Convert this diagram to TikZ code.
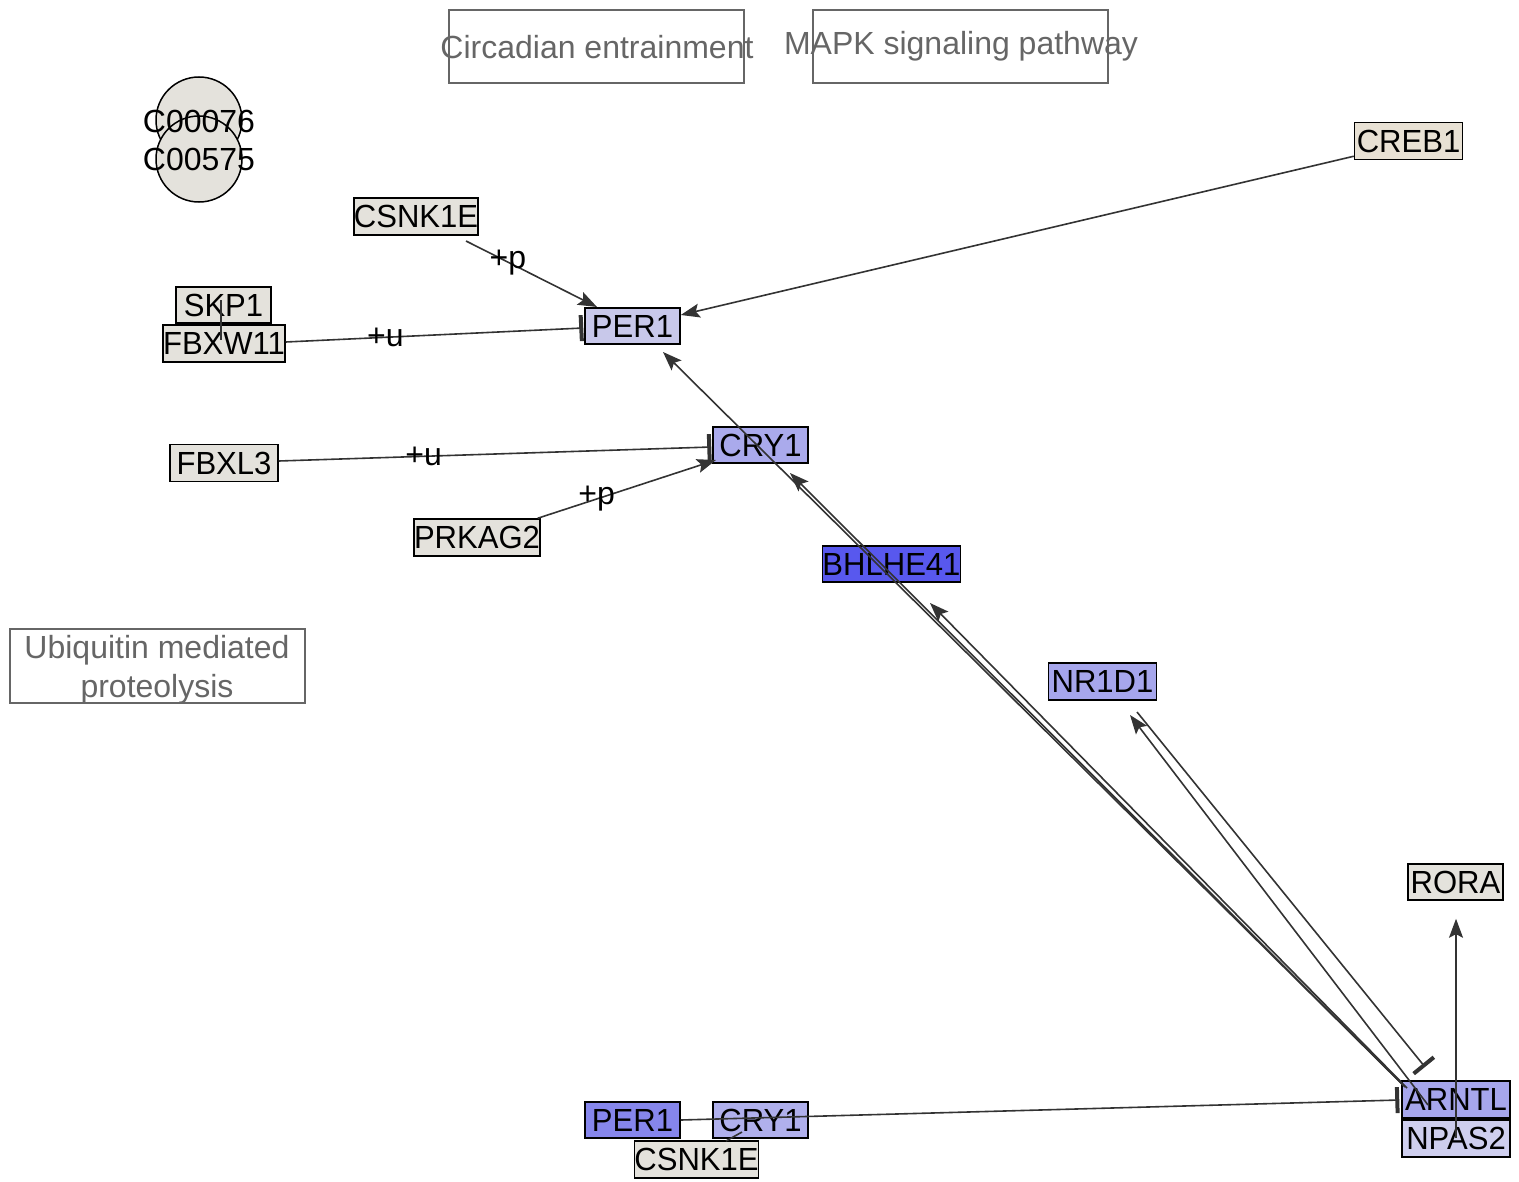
\documentclass[tikz,border=0pt]{standalone}
\usepackage{fontspec}
\setmainfont{Liberation Sans}
\newfontfamily\genefont[FakeStretch=0.97]{Liberation Sans}
\usetikzlibrary{arrows.meta}
\definecolor{genegray}{RGB}{228,226,220}
\definecolor{crebfill}{RGB}{232,225,212}
\definecolor{perA}{RGB}{200,200,234}
\definecolor{cryA}{RGB}{170,170,236}
\definecolor{bhlfill}{RGB}{88,88,238}
\definecolor{nrfill}{RGB}{166,166,236}
\definecolor{arnfill}{RGB}{166,166,236}
\definecolor{npasfill}{RGB}{206,206,238}
\definecolor{perB}{RGB}{134,134,236}
\definecolor{cryB}{RGB}{176,176,236}
\definecolor{pathgray}{RGB}{102,102,102}
\definecolor{edgecol}{RGB}{51,51,51}
\tikzset{
  gene/.style={draw=black, line width=0.75pt, rectangle, inner sep=0pt, fill=genegray,
    font=\genefont\fontsize{16}{18}\selectfont, text=black},
  pathbox/.style={draw=pathgray, line width=0.75pt, rectangle, inner sep=0pt,
    minimum width=147.5pt, minimum height=36.5pt},
  pathtext/.style={inner sep=0pt, text=pathgray, font=\fontsize{16}{19.5}\selectfont, align=center},
  cpd/.style={draw=black, line width=0.75pt, circle, fill=genegray, minimum size=43pt, inner sep=0pt},
  cpdtext/.style={inner sep=0pt, font=\fontsize{16}{18}\selectfont},
  conn/.style={draw=edgecol, line width=0.8pt},
  act/.style={conn, -{Stealth[length=9.5pt,width=7pt,inset=1.8pt]}},
  inh/.style={conn, -{Bar[width=13pt,line width=2pt]}},
  elabel/.style={inner sep=0pt, font=\fontsize{16}{18}\selectfont},
  w95/.style={minimum width=47.5pt, minimum height=18pt},
  w108/.style={minimum width=54pt, minimum height=18.5pt},
  w122/.style={minimum width=61pt, minimum height=18.5pt},
  w135/.style={minimum width=67.5pt, minimum height=18pt}
}
\begin{document}
\begin{tikzpicture}[x=0.5pt,y=-0.5pt]
\useasboundingbox (0,0) rectangle (1519,1182);

% pathway boxes
\node[pathbox] (circbox) at (596.5,46.5) {};
\node[pathtext] (circ) at (597,47) {Circadian entrainment};
\node[pathbox] (mapkbox) at (960.5,46.5) {};
\node[pathtext] (mapk) at (961,46) {MAPK signaling pathway};
\node[pathbox, minimum height=37pt] (ubqbox) at (157.5,666) {};
\node[pathtext] (ubq) at (157,670) {Ubiquitin mediated\\proteolysis};

% compounds
\node[cpd] (c1) at (199,120) {};
\node[cpd] (c2) at (199,159) {};
\node[cpdtext] (c1t) at (199,121) {C00076};
\node[cpdtext] (c2t) at (199,159) {C00575};

% genes
\node[gene, w108, fill=crebfill] (CREB1) at (1408.5,141) {CREB1};
\node[gene, w122] (CSNK1Ea) at (416,216.5) {CSNK1E};
\node[gene, w95] (SKP1) at (223.5,305) {SKP1};
\node[gene, w122] (FBXW11) at (224,343.5) {FBXW11};
\node[gene, w95, fill=perA] (PER1a) at (632.5,326) {PER1};
\node[gene, w108] (FBXL3) at (224,463) {FBXL3};
\node[gene, w95, fill=cryA] (CRY1a) at (760.5,445) {CRY1};
\node[gene, w122] (PRKAG2) at (477,537.5) {PRKAG2};
\node[gene, w135, fill=bhlfill] (BHLHE41) at (891.5,564) {BHLHE41};
\node[gene, w108, fill=nrfill] (NR1D1) at (1102.5,681.5) {NR1D1};
\node[gene, w95] (RORA) at (1455.5,882) {RORA};
\node[gene, w108, fill=arnfill] (ARNTL) at (1456,1099.5) {ARNTL};
\node[gene, w108, fill=npasfill] (NPAS2) at (1456,1138.5) {NPAS2};
\node[gene, w95, fill=perB] (PER1b) at (632.5,1120) {PER1};
\node[gene, w95, fill=cryB] (CRY1b) at (760.5,1120) {CRY1};
\node[gene, w122] (CSNK1Eb) at (696.5,1159.5) {CSNK1E};

% group connectors
\draw[conn] ([shift={(-2.5,-5)}]SKP1.center) -- ([shift={(-3,-3.5)}]FBXW11.center);
\draw[conn] ([shift={(-18.5,12)}]CRY1b.center) -- ([shift={(29.5,-18.5)}]CSNK1Eb.center);

% relations
\draw[act] ([shift={(50,24.5)}]CSNK1Ea.center) -- ([shift={(-35.5,-19)}]PER1a.center)
  node[elabel, pos=0.32] (lp1) {+p};
\draw[inh] ([shift={(0,-1.5)}]FBXW11.east) -- ([shift={(-1,2)}]PER1a.west)
  node[elabel, pos=0.335] (lu1) {+u};
\draw[act] ([shift={(0,-4)}]CREB1.south west) -- ([shift={(0,-11)}]PER1a.east);
\draw[inh] ([shift={(0,-2)}]FBXL3.east) -- ([shift={(-1,2)}]CRY1a.west)
  node[elabel, pos=0.335] (lu2) {+u};
\draw[act] ([shift={(-3,0)}]PRKAG2.north east) -- ([shift={(-44.5,15)}]CRY1a.center)
  node[elabel, pos=0.33] (lp2) {+p};

\draw[act] ([shift={(-53,-14.5)}]ARNTL.center) -- ([shift={(30.5,26)}]PER1a.center);
\draw[act] ([shift={(-51,-12.5)}]ARNTL.center) -- ([shift={(29.5,28)}]CRY1a.center);
\draw[act] ([shift={(-49,-11.5)}]ARNTL.center) -- ([shift={(38.5,39)}]BHLHE41.center);
\draw[act] ([shift={(-28,5.5)}]ARNTL.center) -- ([shift={(27.5,33.5)}]NR1D1.center);
\draw[inh] ([shift={(34.5,30.5)}]NR1D1.center) -- ([shift={(-31,-32.5)}]ARNTL.center);
\draw[act] ([shift={(0,-0.5)}]NPAS2.center) -- ([shift={(0.5,18)}]RORA.south);
\draw[inh] (PER1b.east) -- ([shift={(-2,0.5)}]ARNTL.west);
\end{tikzpicture}
\end{document}
